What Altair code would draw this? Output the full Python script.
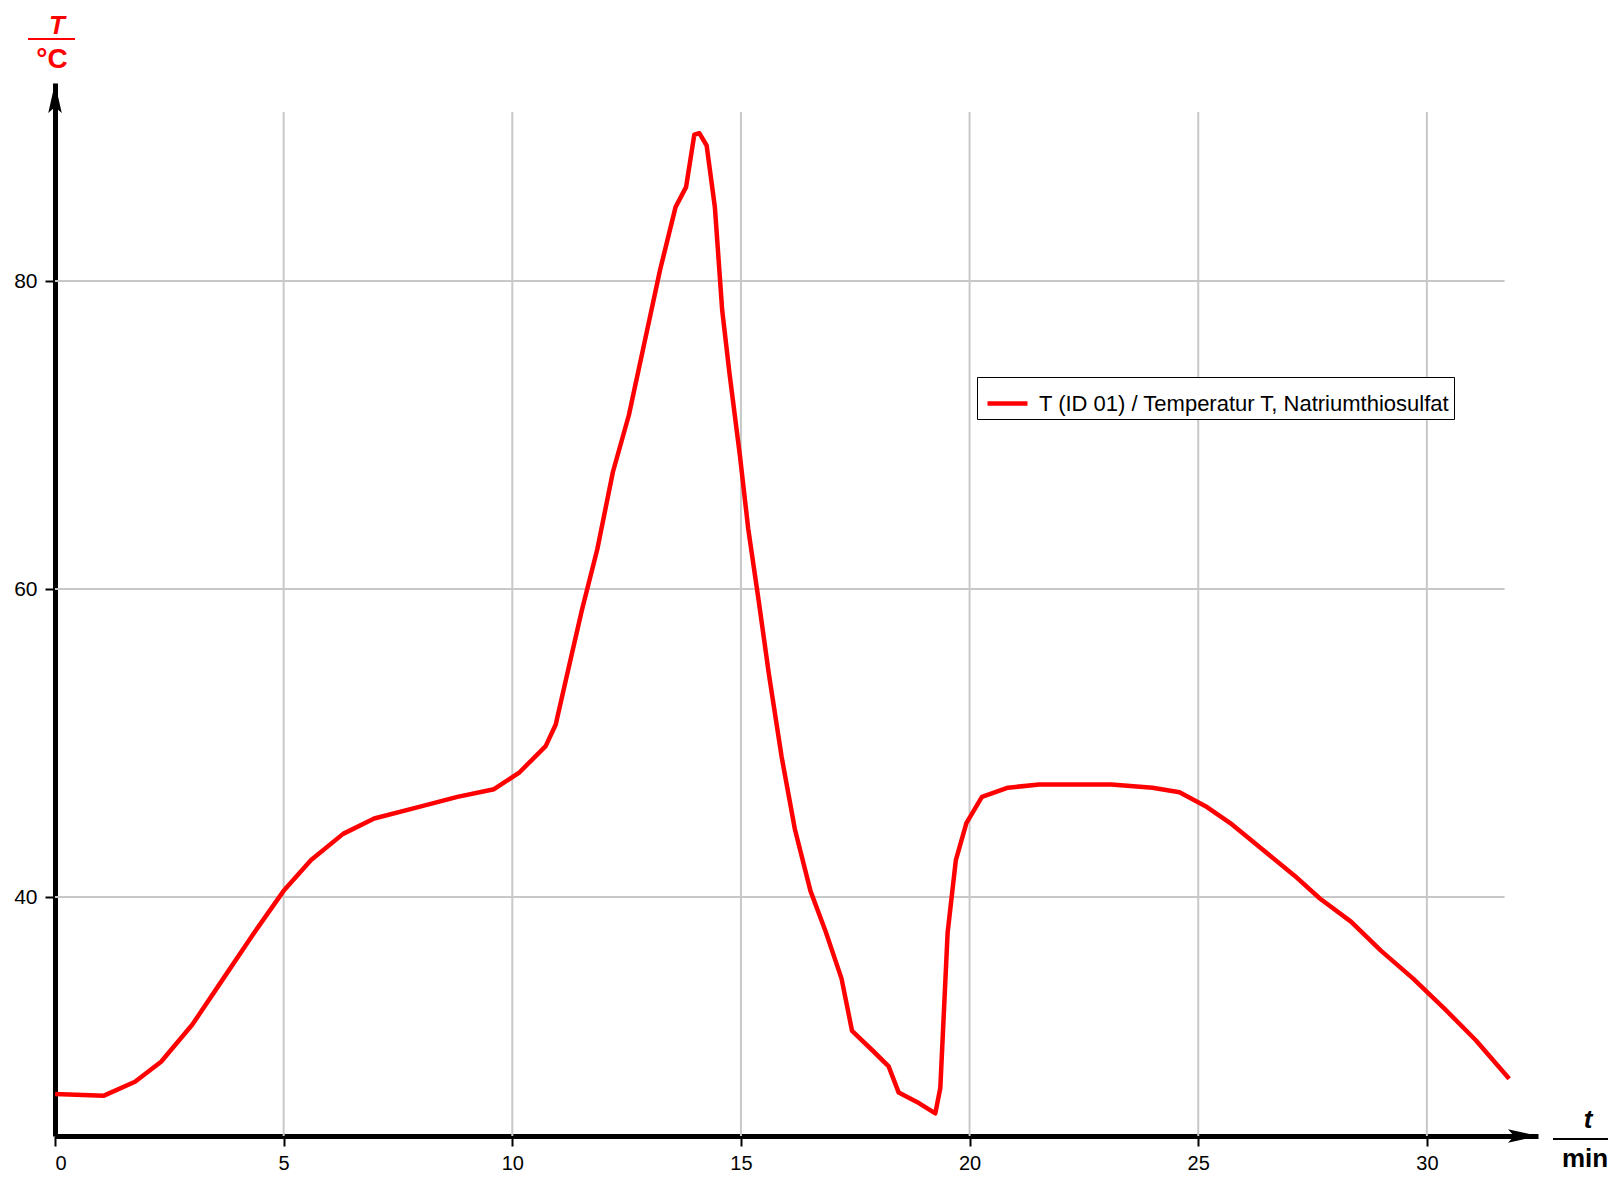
import altair as alt
import pandas as pd

# ---- data ----
time_min = [0.0, 1.07, 1.75, 2.32, 3.0, 3.68, 4.36, 5.0, 5.6, 6.3, 6.98, 7.9, 8.8, 9.6,
            10.16, 10.73, 10.95, 11.18, 11.52, 11.86, 12.2, 12.55, 12.89, 13.23, 13.57,
            13.8, 13.98, 14.09, 14.25, 14.43, 14.59, 14.75, 14.98, 15.16, 15.39, 15.61,
            15.89, 16.18, 16.52, 16.86, 17.2, 17.43, 17.89, 18.23, 18.45, 18.9, 19.25,
            19.36, 19.52, 19.7, 19.93, 20.27, 20.84, 21.52, 23.1, 24.0, 24.59, 25.16,
            25.7, 26.4, 27.1, 27.66, 28.34, 29.0, 29.7, 30.4, 31.07, 31.8]
temp_c = [27.2, 27.1, 28.0, 29.3, 31.7, 34.7, 37.7, 40.4, 42.4, 44.1, 45.1, 45.8, 46.5, 47.0,
          48.1, 49.8, 51.2, 54.2, 58.6, 62.6, 67.6, 71.3, 76.0, 80.7, 84.8,
          86.1, 89.5, 89.6, 88.8, 84.8, 78.1, 74.0, 68.6, 63.9, 59.2, 54.5,
          49.1, 44.4, 40.4, 37.7, 34.7, 31.3, 30.0, 29.0, 27.3, 26.6, 25.95,
          27.6, 37.7, 42.4, 44.8, 46.5, 47.1, 47.3, 47.3, 47.1, 46.8, 45.9,
          44.8, 43.1, 41.4, 39.9, 38.4, 36.5, 34.7, 32.7, 30.7, 28.2]
series_name = "T (ID 01) / Temperatur T, Natriumthiosulfat"
x_ticks = [0, 5, 10, 15, 20, 25, 30]
y_ticks = [40, 60, 80]
x_grid = [5, 10, 15, 20, 25, 30]
y_grid = [40, 60, 80]

X_MAX = 32.43
Y_MIN, Y_MAX = 24.48, 92.86
GRID_X_END = 31.7
GRID_Y_END = 90.97

W, H = 1483, 1053
FONT = "Liberation Sans"

df = pd.DataFrame({"t": time_min, "T": temp_c, "s": [series_name] * len(time_min)})
xs = alt.Scale(domain=[0, X_MAX], nice=False, zero=False)
ys = alt.Scale(domain=[Y_MIN, Y_MAX], nice=False, zero=False)

xaxis = alt.Axis(values=x_ticks, grid=False, domainColor="black", domainWidth=5,
                 tickColor="black", tickWidth=2, tickSize=10, labelFontSize=20,
                 labelFont=FONT, labelColor="black", labelPadding=7, title=None)
yaxis = alt.Axis(values=y_ticks, grid=False, domainColor="black", domainWidth=5,
                 tickColor="black", tickWidth=2, tickSize=10, labelFontSize=21,
                 labelFont=FONT, labelColor="black", labelPadding=8, title=None)

vgrid = alt.Chart(pd.DataFrame({"g": x_grid})).mark_rule(color="#c8c8c8", strokeWidth=2).encode(
    x=alt.X("g:Q", scale=xs, axis=xaxis), y=alt.datum(Y_MIN, scale=ys), y2=alt.datum(GRID_Y_END))
hgrid = alt.Chart(pd.DataFrame({"g": y_grid})).mark_rule(color="#c8c8c8", strokeWidth=2).encode(
    y=alt.Y("g:Q", scale=ys, axis=yaxis), x=alt.datum(0, scale=xs), x2=alt.datum(GRID_X_END))

line = alt.Chart(df).mark_line(strokeWidth=4.5, strokeJoin="round").encode(
    x=alt.X("t:Q", scale=xs, axis=xaxis),
    y=alt.Y("T:Q", scale=ys, axis=yaxis),
    color=alt.Color("s:N", scale=alt.Scale(domain=[series_name], range=["#ff0000"]),
                    legend=alt.Legend(title=None, orient="none", legendX=922, legendY=294,
                                      symbolType="stroke", symbolSize=1600,
                                      symbolStrokeWidth=4.5, symbolOffset=4,
                                      labelFontSize=22, labelOffset=9,
                                      labelFont=FONT, labelColor="black",
                                      strokeColor="black", fillColor="white",
                                      padding=4, labelLimit=700)),
)

arrow_up = alt.Chart(pd.DataFrame({"a": [0]})).mark_point(
    shape="M0,-1L-0.45,1L0,0.6L0.45,1Z", filled=True, color="black", size=900, opacity=1
).encode(x=alt.value(0), y=alt.value(15))
arrow_right = alt.Chart(pd.DataFrame({"a": [0]})).mark_point(
    shape="M1,0L-1,-0.45L-0.6,0L-1,0.45Z", filled=True, color="black", size=900, opacity=1
).encode(x=alt.value(W - 15), y=alt.value(H))

def txt(s, x, y, color, size, style="normal"):
    return alt.Chart(pd.DataFrame({"v": [s]})).mark_text(
        font=FONT, fontSize=size, fontWeight="bold", fontStyle=style, color=color,
        align="center", baseline="middle").encode(text="v:N", x=alt.value(x), y=alt.value(y))

def hline(x1, x2, y, color):
    return alt.Chart(pd.DataFrame({"a": [0]})).mark_rule(color=color, strokeWidth=2).encode(
        x=alt.value(x1), x2=alt.value(x2), y=alt.value(y))

ytitle = txt("T", 2, -57, "#ff0000", 26, "italic") + hline(-27, 20, -44, "#ff0000") + \
    txt("°C", -3, -23, "#ff0000", 28)
xtitle = txt("t", 1533, 1037, "black", 26, "italic") + hline(1498, 1559, 1056, "black") + \
    txt("min", 1530, 1076, "black", 26)

chart = alt.layer(vgrid, hgrid, line, arrow_up, arrow_right, ytitle, xtitle).properties(
    width=W, height=H,
    background="white",
    autosize=alt.AutoSizeParams(type="none"),
    padding={"left": 47, "top": 75, "right": 70, "bottom": 40},
).configure_view(stroke=None)

chart.save("out.html", embed_options={"renderer": "svg", "actions": False})
